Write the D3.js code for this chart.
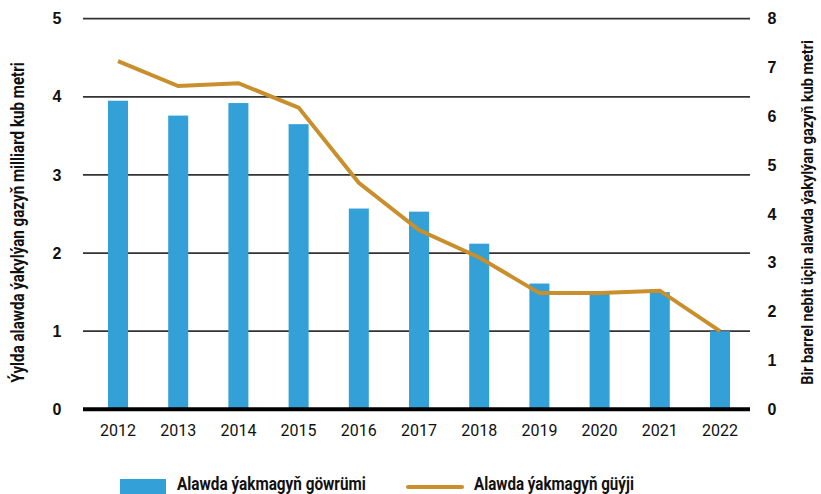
<!DOCTYPE html>
<html>
<head>
<meta charset="utf-8">
<script src="https://cdn.jsdelivr.net/npm/d3@7"></script>
<style>
  html, body { margin: 0; padding: 0; background: #fff; }
  svg { display: block; }
</style>
</head>
<body>
<svg id="chart" width="821" height="494"></svg>
<script>
const years = ["2012","2013","2014","2015","2016","2017","2018","2019","2020","2021","2022"];
const volume = [3.95, 3.76, 3.92, 3.65, 2.57, 2.53, 2.12, 1.61, 1.49, 1.50, 1.00];
const intensity = [7.13, 6.62, 6.68, 6.18, 4.64, 3.67, 3.11, 2.38, 2.38, 2.43, 1.60];
const leftTicks = [0, 1, 2, 3, 4, 5];
const rightTicks = [0, 1, 2, 3, 4, 5, 6, 7, 8];
const leftTitle = "Ýylda alawda ýakylýan gazyň milliard kub metri";
const rightTitle = "Bir barrel nebit üçin alawda ýakylýan gazyň kub metri";
const legendBar = "Alawda ýakmagyň göwrümi";
const legendLine = "Alawda ýakmagyň güýji";

const svg = d3.select("#chart");
const x0 = 83, x1 = 750, yTop = 18.7, yBot = 409.3;
const x = d3.scalePoint().domain(years).range([118, 720]);
const yL = d3.scaleLinear().domain([0, 5]).range([yBot, yTop]);
const yR = d3.scaleLinear().domain([0, 8]).range([yBot, yTop]);
const barW = 20;
const blue = "#33a0d8", gold = "#c98f2c";

// gridlines
svg.append("g").selectAll("line").data(leftTicks.filter(d => d > 0)).join("line")
  .attr("x1", x0).attr("x2", x1)
  .attr("y1", d => yL(d)).attr("y2", d => yL(d))
  .attr("stroke", "#333").attr("stroke-width", 1.8);

// bars
svg.append("g").selectAll("rect").data(years).join("rect")
  .attr("x", (d) => x(d) - barW / 2)
  .attr("width", barW)
  .attr("y", (d, i) => yL(volume[i]))
  .attr("height", (d, i) => yL(0) - yL(volume[i]))
  .attr("fill", blue);

// baseline
svg.append("line").attr("x1", x0).attr("x2", x1)
  .attr("y1", yL(0)).attr("y2", yL(0))
  .attr("stroke", "#000").attr("stroke-width", 4);

// line
const line = d3.line().x((d, i) => x(years[i])).y(d => yR(d));
svg.append("path").datum(intensity)
  .attr("d", line).attr("fill", "none")
  .attr("stroke", gold).attr("stroke-width", 4)
  .attr("stroke-linejoin", "miter");

// left ticks
svg.append("g").selectAll("text").data(leftTicks).join("text")
  .attr("x", 57).attr("y", d => yL(d)).attr("dy", "0.35em")
  .attr("text-anchor", "middle")
  .attr("font-family", "Liberation Sans, Arial, sans-serif")
  .attr("font-weight", "bold").attr("font-size", 16).attr("fill", "#111")
  .text(d => d);

// right ticks
svg.append("g").selectAll("text").data(rightTicks).join("text")
  .attr("x", 772).attr("y", d => yR(d)).attr("dy", "0.35em")
  .attr("text-anchor", "middle")
  .attr("font-family", "Liberation Sans, Arial, sans-serif")
  .attr("font-weight", "bold").attr("font-size", 16).attr("fill", "#111")
  .text(d => d);

// x labels
svg.append("g").selectAll("text").data(years).join("text")
  .attr("x", d => x(d)).attr("y", 436)
  .attr("text-anchor", "middle")
  .attr("font-family", "Roboto, sans-serif")
  .attr("font-size", 16).attr("fill", "#111")
  .text(d => d);

// condensed text helper: scales horizontally to a target length
function condensed(tx, ty, rot, size, target, anchor, str) {
  const g = svg.append("g");
  const t = g.append("text")
    .attr("text-anchor", anchor)
    .attr("font-family", "Roboto, sans-serif").attr("font-weight", "bold")
    .attr("font-size", size).attr("fill", "#111")
    .text(str);
  const len = t.node().getComputedTextLength();
  const s = target / len;
  g.attr("transform", `translate(${tx},${ty}) rotate(${rot}) scale(${s},1)`);
  return g;
}

// axis titles
condensed(24, 222.5, -90, 18, 321, "middle", leftTitle);
condensed(813, 212.5, -90, 17, 345, "middle", rightTitle);

// legend
svg.append("rect").attr("x", 120).attr("y", 479).attr("width", 46).attr("height", 16).attr("fill", blue);
condensed(177, 490, 0, 19, 189, "start", legendBar);
svg.append("line").attr("x1", 408).attr("x2", 462).attr("y1", 487).attr("y2", 487)
  .attr("stroke", gold).attr("stroke-width", 4).attr("stroke-linecap", "round");
condensed(474, 490, 0, 19, 160, "start", legendLine);
</script>
</body>
</html>
